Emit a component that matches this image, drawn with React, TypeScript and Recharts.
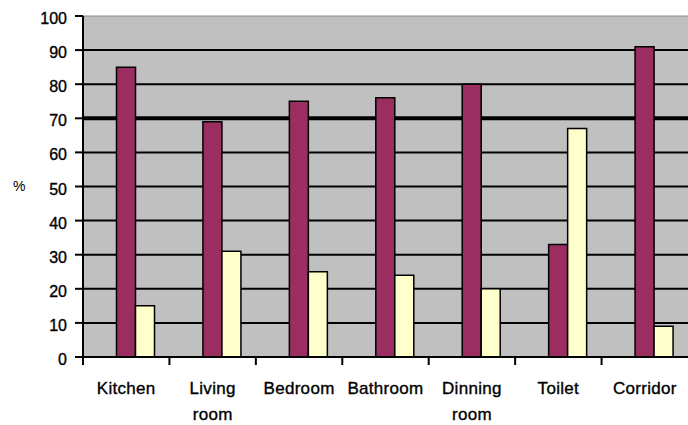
import React from "react";
import { BarChart, Bar, XAxis, YAxis, CartesianGrid } from "recharts";

const categories = ["Kitchen", "Living room", "Bedroom", "Bathroom", "Dinning room", "Toilet", "Corridor"];
const seriesA = [85, 69, 75, 76, 80, 33, 91];
const seriesB = [15, 31, 25, 24, 20, 67, 9];
const yTicks = [0, 10, 20, 30, 40, 50, 60, 70, 80, 90, 100];
const gridValues = [10, 20, 30, 40, 50, 60, 80, 90];
const heavyGridValues = [70];
const topValues = [100];

const data = categories.map((name, i) => ({ name, a: seriesA[i], b: seriesB[i] }));

const FONT = "'Liberation Sans', Arial, sans-serif";

const XTick = (props: any) => {
  const { x, y, payload } = props;
  const half = payload && typeof payload.offset === "number" ? payload.offset : 43.2;
  const words = String(payload.value).split(" ");
  return (
    <g>
      <line x1={x - half} x2={x - half} y1={y} y2={y + 8} stroke="#000" strokeWidth={2} />
      {words.map((w: string, i: number) => (
        <text
          key={i}
          x={x}
          y={y + 37 + i * 26}
          textAnchor="middle"
          fontFamily={FONT}
          fontSize={17}
          letterSpacing={0.3}
          fill="#000"
          stroke="#000"
          strokeWidth={0.35}
        >
          {w}
        </text>
      ))}
    </g>
  );
};

const YTick = (props: any) => {
  const { x, y, payload } = props;
  return (
    <text
      x={x}
      y={y + 8}
      textAnchor="end"
      fontFamily={FONT}
      fontSize={16}
      fill="#000"
      stroke="#000"
      strokeWidth={0.35}
    >
      {payload.value}
    </text>
  );
};

export default function App() {
  return (
    <div style={{ position: "absolute", left: 0, top: 0, width: 688, height: 425, background: "#fff" }}>
      <BarChart
        width={688}
        height={425}
        data={data}
        margin={{ top: 16, right: 0, bottom: 0, left: 0 }}
        barGap={0}
      >
        <CartesianGrid
          vertical={false}
          fill="#c0c0c0"
          stroke="#000"
          strokeWidth={2}
          horizontalValues={gridValues}
        />
        <CartesianGrid vertical={false} stroke="#000" strokeWidth={4} horizontalValues={heavyGridValues} />
        <CartesianGrid vertical={false} stroke="#8a8a8a" strokeWidth={1} horizontalValues={topValues} />
        <XAxis
          dataKey="name"
          height={68}
          interval={0}
          axisLine={{ stroke: "#000", strokeWidth: 2 }}
          tickLine={false}
          tickSize={0}
          tickMargin={0}
          tick={<XTick />}
        />
        <XAxis
          xAxisId="bars"
          dataKey="name"
          hide
          padding={{ left: 9.5, right: -9.5 }}
        />
        <YAxis
          width={83}
          domain={[0, 100]}
          ticks={yTicks}
          interval={0}
          axisLine={{ stroke: "#000", strokeWidth: 2 }}
          tickLine={{ stroke: "#000", strokeWidth: 2 }}
          tickSize={8}
          tickMargin={8}
          tick={<YTick />}
          label={{ value: "%", position: "insideLeft", offset: 13, fontFamily: FONT, fontSize: 14, fill: "#000" }}
        />
        <Bar xAxisId="bars" dataKey="a" fill="#9a2e60" stroke="#000" strokeWidth={1.5} barSize={19} isAnimationActive={false} />
        <Bar xAxisId="bars" dataKey="b" fill="#ffffcc" stroke="#000" strokeWidth={1.5} barSize={19} isAnimationActive={false} />
      </BarChart>
    </div>
  );
}
